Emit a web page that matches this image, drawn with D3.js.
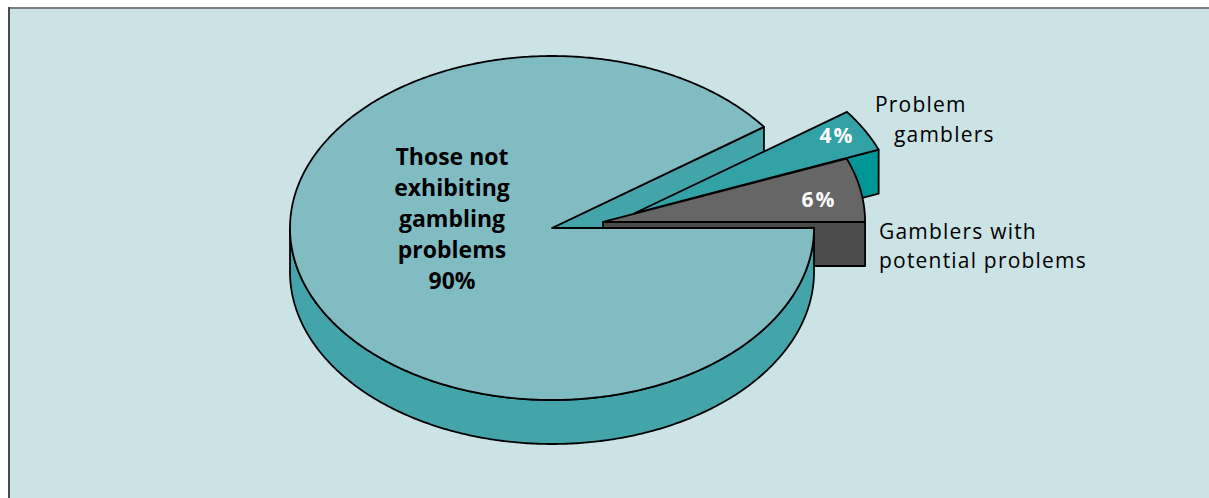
<!DOCTYPE html>
<html>
<head>
<meta charset="utf-8">
<script src="https://cdn.jsdelivr.net/npm/d3@7"></script>
<style>
  html, body { margin: 0; padding: 0; background: #ffffff; }
  svg { display: block; }
</style>
</head>
<body>
<script>
// ---- data ----
const categories = ["Gamblers with potential problems", "Problem gamblers", "Those not exhibiting gambling problems"];
const values = [6, 4, 90];
const percentLabels = ["6%", "4%", "90%"];
const categoryLines = [["Gamblers with", "potential problems"], ["Problem", "gamblers"], ["Those not", "exhibiting", "gambling", "problems"]];

// ---- layout / style ----
const W = 1209, H = 498;
const cx = 552, cy = 228, rx = 262, ry = 172, depth = 44;
const explode = [[0.195, 0.035], [0.317, 0.087], [0, 0]]; // offset in radius units
const topColors  = ["#666666", "#33a2a6", "#80bcc2"];
const wallColors = ["#4b4b4b", "#009696", "#43a5a9"];
const sideColors = ["#4b4b4b", "#009696", "#43a5a9"];

const svg = d3.select("body").append("svg").attr("width", W).attr("height", H);

// frame
svg.append("rect").attr("x", 9).attr("y", 8).attr("width", W - 9).attr("height", H - 8).attr("fill", "#cbe3e5");
svg.append("line").attr("x1", 8).attr("x2", W).attr("y1", 8).attr("y2", 8).attr("stroke", "#7d7d7d").attr("stroke-width", 2);
svg.append("line").attr("x1", 9).attr("x2", 9).attr("y1", 7).attr("y2", H).attr("stroke", "#4a4a4a").attr("stroke-width", 2);

// scales: unit ellipse param space -> pixels
const xs = d3.scaleLinear().domain([-1, 1]).range([cx - rx, cx + rx]);
const ys = d3.scaleLinear().domain([-1, 1]).range([cy + ry, cy - ry]);

const pie = d3.pie().sort(null).startAngle(0).endAngle(2 * Math.PI);
const arcs = pie(values);

const line = d3.line();
const g = svg.append("g");

function pt(i, phi, dz) {
  const e = explode[i];
  return [xs(e[0] + Math.cos(phi)), ys(e[1] + Math.sin(phi)) + (dz || 0)];
}
function apex(i, dz) {
  const e = explode[i];
  return [xs(e[0]), ys(e[1]) + (dz || 0)];
}
function arcPts(i, a0, a1, dz) {
  const n = Math.max(2, Math.ceil(Math.abs(a1 - a0) / 0.01));
  return d3.range(n + 1).map(k => pt(i, a0 + (a1 - a0) * k / n, dz));
}
const strokeAttrs = sel => sel.attr("stroke", "#000").attr("stroke-width", 1.8).attr("stroke-linejoin", "round");

function drawWalls(i) {
  const a = arcs[i];
  if (Math.cos(a.startAngle) > 0) {
    const p = [apex(i), pt(i, a.startAngle), pt(i, a.startAngle, depth), apex(i, depth)];
    g.append("path").attr("d", line(p) + "Z").attr("fill", wallColors[i]).call(strokeAttrs);
  }
  if (Math.cos(a.endAngle) < 0) {
    const p = [apex(i), pt(i, a.endAngle), pt(i, a.endAngle, depth), apex(i, depth)];
    g.append("path").attr("d", line(p) + "Z").attr("fill", wallColors[i]).call(strokeAttrs);
  }
}
function drawSide(i) {
  const a = arcs[i];
  const s = Math.max(a.startAngle, Math.PI), e = Math.min(a.endAngle, 2 * Math.PI);
  if (e <= s) return;
  const p = arcPts(i, s, e, 0).concat(arcPts(i, e, s, depth));
  g.append("path").attr("d", line(p) + "Z").attr("fill", sideColors[i]).call(strokeAttrs);
}
function drawTop(i) {
  const a = arcs[i];
  const p = [apex(i)].concat(arcPts(i, a.startAngle, a.endAngle, 0));
  g.append("path").attr("d", line(p) + "Z").attr("fill", topColors[i]).call(strokeAttrs);
}

// draw order (back to front)
drawWalls(2);
drawWalls(1); drawSide(1); drawTop(1);
drawWalls(0); drawSide(0); drawTop(0);
drawSide(2); drawTop(2);

// labels
const font = "'Open Sans', 'DejaVu Sans', sans-serif";
// big slice label (inside)
const bigLines = categoryLines[2].concat([percentLabels[2]]);
const tBig = svg.append("text").attr("font-family", font).attr("font-weight", 700).attr("font-size", 23)
  .attr("fill", "#000").attr("text-anchor", "middle");
bigLines.forEach((s, k) => tBig.append("tspan").attr("x", 452).attr("y", 165 + k * 31).text(s));

// percentage labels on exploded slices
svg.append("text").attr("x", 837).attr("y", 143).attr("font-family", font).attr("font-weight", 700)
  .attr("font-size", 21).attr("letter-spacing", 2).attr("fill", "#fff").attr("text-anchor", "middle").text(percentLabels[1]);
svg.append("text").attr("x", 819).attr("y", 207).attr("font-family", font).attr("font-weight", 700)
  .attr("font-size", 21).attr("letter-spacing", 2).attr("fill", "#fff").attr("text-anchor", "middle").text(percentLabels[0]);

// outside category labels
const t1 = svg.append("text").attr("font-family", font).attr("font-size", 21).attr("letter-spacing", 1.2).attr("fill", "#000");
t1.append("tspan").attr("x", 875).attr("y", 112).text(categoryLines[1][0]);
t1.append("tspan").attr("x", 894).attr("y", 142).text(categoryLines[1][1]);
const t0 = svg.append("text").attr("font-family", font).attr("font-size", 21).attr("letter-spacing", 1.2).attr("fill", "#000");
t0.append("tspan").attr("x", 879).attr("y", 239).text(categoryLines[0][0]);
t0.append("tspan").attr("x", 879).attr("y", 268).text(categoryLines[0][1]);
</script>
</body>
</html>
